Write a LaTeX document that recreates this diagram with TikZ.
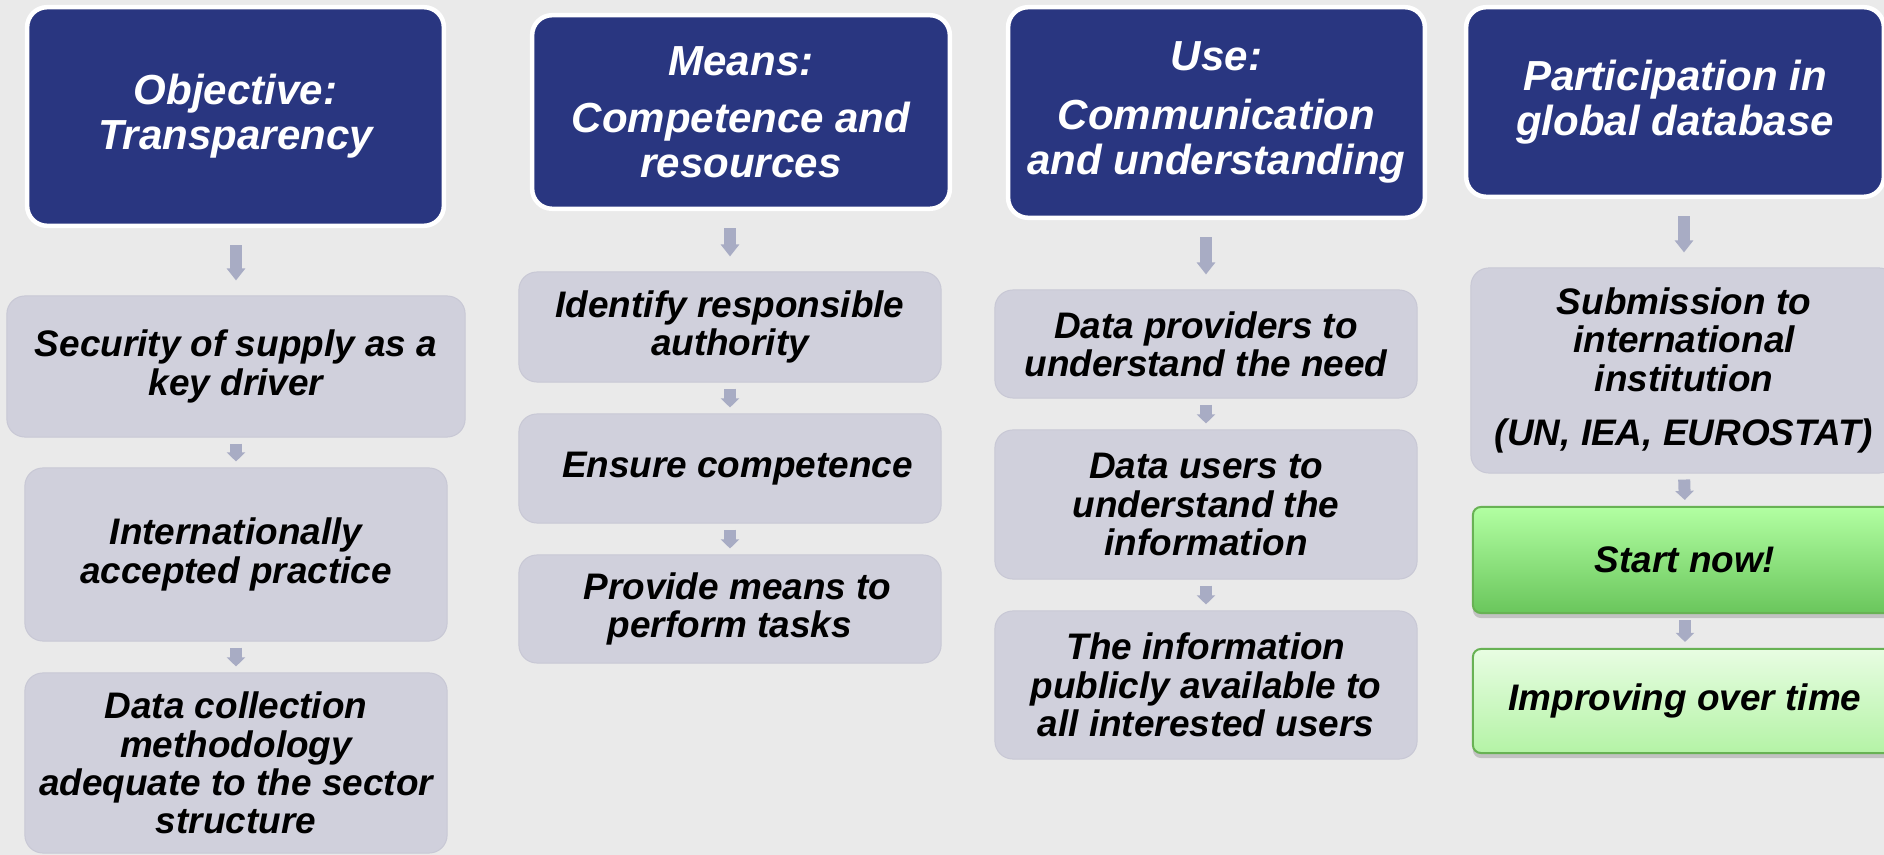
\documentclass[tikz,border=0pt]{standalone}
\usepackage{fontspec}
\setmainfont{Liberation Sans}
\usepackage{tikz}
\usetikzlibrary{arrows.meta,shadows}
\usepackage{xcolor}
\definecolor{backgr}{RGB}{234,234,234}
\definecolor{navy}{RGB}{41,54,128}
\definecolor{cardfill}{RGB}{208,208,220}
\definecolor{cardline}{RGB}{200,200,213}
\definecolor{pointer}{RGB}{168,172,196}
\definecolor{leaflight}{RGB}{178,255,162}
\definecolor{leafdark}{RGB}{106,198,92}
\definecolor{leafline}{RGB}{104,178,84}
\definecolor{mintlight}{RGB}{232,253,226}
\definecolor{mintdark}{RGB}{180,243,166}
\tikzset{
    headbox/.style={
        rectangle,
        rounded corners=0.2cm,
        fill=navy,
        draw=white,
        line width=0.045cm,
        inner sep=0mm,
        align=center,
        text=white,
        font=\fontsize{11.95pt}{12.8pt}\selectfont\bfseries\itshape
    },
    cardbox/.style={
        rectangle,
        rounded corners=0.18cm,
        fill=cardfill,
        draw=cardline,
        line width=0.01cm,
        minimum width=4.22cm,
        inner sep=0mm,
        align=center,
        font=\fontsize{10.5pt}{10.9pt}\selectfont\bfseries\itshape
    },
    gobox/.style={
        cardbox,
        rounded corners=0.08cm,
        draw=leafline,
        line width=0.02cm,
        minimum width=4.24cm,
        drop shadow={shadow xshift=0cm, shadow yshift=-0.05cm, opacity=0.25, fill=black!70}
    },
    bigarr/.style={
        draw=pointer,
        line width=0.12cm,
        -{Triangle[width=0.18cm,length=0.12cm]},
        shorten <=0.17cm,
        shorten >=0.15cm
    },
    smallarr/.style={
        draw=pointer,
        line width=0.12cm,
        -{Triangle[width=0.18cm,length=0.09cm]},
        shorten <=0.06cm,
        shorten >=0.06cm
    }
}

\begin{document}
\begin{tikzpicture}[x=0.01cm,y=-0.01cm]
    \useasboundingbox (0,0) rectangle (1884,855);
    \clip (0,0) rectangle (1884,855);
    \fill[backgr] (0,0) rectangle (1884,855);

    \node[headbox,minimum width=4.165cm,minimum height=2.185cm] (h1) at (235.5,116.5) {Objective:\\Transparency};
    \node[headbox,minimum width=4.175cm,minimum height=1.935cm] (h2) at (741,112) {Means:\\[3.4pt]Competence and\\resources};
    \node[headbox,minimum width=4.165cm,minimum height=2.105cm] (h3) at (1216.5,112.5) {Use:\\[4pt]Communication\\and understanding};
    \node[headbox,minimum width=4.175cm,minimum height=1.895cm] (h4) at (1675,102) {Participation in\\global database};

    \node[cardbox,minimum width=4.58cm,minimum height=1.41cm] (g11) at (236,366.5) {Security of supply as a\\key driver};
    \node[cardbox,minimum height=1.73cm] (g12) at (236,554.5) {Internationally\\accepted practice};
    \node[cardbox,minimum height=1.80cm] (g13) at (236,763) {Data collection\\methodology\\adequate to the sector\\structure};

    \node[cardbox,minimum height=1.10cm] (g21) at (730,327) {Identify responsible\\authority};
    \node[cardbox,minimum height=1.09cm] (g22) at (730,468.5) {\hspace{0.15cm}Ensure competence};
    \node[cardbox,minimum height=1.08cm] (g23) at (730,609) {\hspace{0.15cm}Provide means to\\perform tasks};

    \node[cardbox,minimum height=1.08cm] (g31) at (1206,344) {Data providers to\\understand the need};
    \node[cardbox,minimum height=1.49cm] (g32) at (1206,504.5) {Data users to\\understand the\\information};
    \node[cardbox,minimum height=1.48cm] (g33) at (1206,685) {The information\\publicly available to\\all interested users};

    \node[cardbox,minimum width=4.26cm,minimum height=2.05cm] (g41) at (1684,370.5) {Submission to\\international\\institution\\[4.5pt](UN, IEA, EUROSTAT)};
    \node[gobox,top color=leaflight,bottom color=leafdark,minimum height=1.06cm] (s1) at (1685,560) {Start now!};
    \node[gobox,top color=mintlight,bottom color=mintdark,minimum height=1.04cm] (s2) at (1685,701) {Improving over time};

    \foreach \h/\g in {h1/g11,h2/g21,h3/g31,h4/g41}
        \draw[bigarr] (\g.north |- \h.south) -- (\g.north);
    \foreach \a/\b in {g11/g12,g12/g13,g21/g22,g22/g23,g31/g32,g32/g33,g41/s1,s1/s2}
        \draw[smallarr] (\a.south) -- (\b.north);
\end{tikzpicture}
\end{document}
